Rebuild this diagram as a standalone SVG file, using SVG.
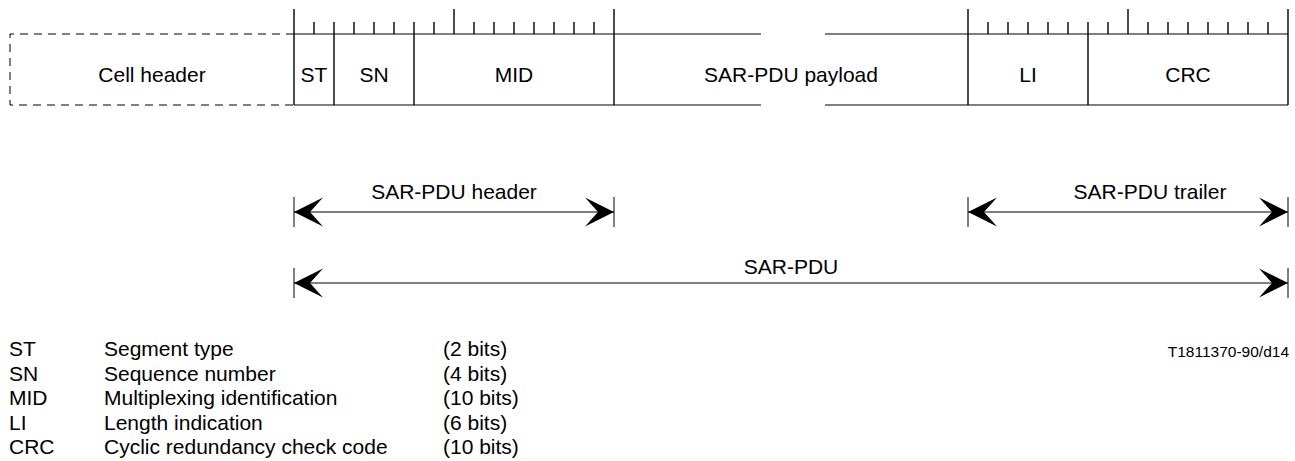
<svg xmlns="http://www.w3.org/2000/svg" width="1295" height="461" viewBox="0 0 1295 461">
<style>
text{font-family:"Liberation Sans",Arial,sans-serif;fill:#000}
.lbl{font-size:21px;text-anchor:middle}
.leg{font-size:21px}
.ln{stroke:#000;stroke-width:1;fill:none}
.tk{stroke:#000;stroke-width:1.4;fill:none}
.dash{stroke:#000;stroke-width:1;fill:none;stroke-dasharray:8 6}
.arr{stroke:#000;stroke-width:1;fill:none;marker-start:url(#ah);marker-end:url(#ah)}
</style>
<defs>
<marker id="ah" viewBox="-30 -15 31 30" refX="0" refY="0" markerWidth="31" markerHeight="30" markerUnits="userSpaceOnUse" orient="auto-start-reverse">
<path d="M0,0 L-29,-14.5 L-16,0 L-29,14.5 Z" fill="#000"/>
</marker>
</defs>
<rect width="1295" height="461" fill="#fff"/>

<g id="ticks">
<path class="tk" d="M294,9V34 M454,9V34 M614,9V34 M968,9V34 M1128,9V34 M1288,9V34
M314,22V34 M334,22V34 M354,22V34 M374,22V34 M394,22V34 M414,22V34 M434,22V34
M474,22V34 M494,22V34 M514,22V34 M534,22V34 M554,22V34 M574,22V34 M594,22V34
M988,22V34 M1008,22V34 M1028,22V34 M1048,22V34 M1068,22V34 M1088,22V34 M1108,22V34
M1148,22V34 M1168,22V34 M1188,22V34 M1208,22V34 M1228,22V34 M1248,22V34 M1268,22V34"/>
</g>

<g id="cell-header">
<path class="dash" d="M294,34H10V105H294"/>
<text class="lbl" x="152" y="82">Cell header</text>
</g>
<g id="st">
<path class="ln" d="M294,34H334M294,105H334"/>
<path class="tk" d="M294,34V105M334,34V105"/>
<text class="lbl" x="314" y="82">ST</text>
</g>
<g id="sn">
<path class="ln" d="M334,34H414M334,105H414"/>
<path class="tk" d="M414,34V105"/>
<text class="lbl" x="374" y="82">SN</text>
</g>
<g id="mid">
<path class="ln" d="M414,34H614M414,105H614"/>
<path class="tk" d="M614,34V105"/>
<text class="lbl" x="514" y="82">MID</text>
</g>
<g id="payload">
<path class="ln" d="M614,34H761M825,34H968M614,105H761M825,105H968"/>
<text class="lbl" x="791" y="82">SAR-PDU payload</text>
</g>
<g id="li">
<path class="ln" d="M968,34H1088M968,105H1088"/>
<path class="tk" d="M968,34V105M1088,34V105"/>
<text class="lbl" x="1028" y="82">LI</text>
</g>
<g id="crc">
<path class="ln" d="M1088,34H1288M1088,105H1288"/>
<path class="tk" d="M1288,34V105"/>
<text class="lbl" x="1188" y="82">CRC</text>
</g>

<g id="connectors">
<path class="ln" d="M294,197V227M614,197V227M968,197V227M1288,197V227M294,268V298M1288,268V298"/>
<line class="arr" x1="294" y1="212" x2="614" y2="212"/>
<line class="arr" x1="968" y1="212" x2="1288" y2="212"/>
<line class="arr" x1="294" y1="283" x2="1288" y2="283"/>
</g>
<g id="arrow-labels">
<text class="lbl" x="454" y="199">SAR-PDU header</text>
<text class="lbl" x="1150" y="199">SAR-PDU trailer</text>
<text class="lbl" x="791" y="274">SAR-PDU</text>
</g>

<g id="legend" class="leg">
<text x="9" y="356">ST</text><text x="104" y="356">Segment type</text><text x="443" y="356">(2 bits)</text>
<text x="9" y="380.5">SN</text><text x="104" y="380.5">Sequence number</text><text x="443" y="380.5">(4 bits)</text>
<text x="9" y="405">MID</text><text x="104" y="405">Multiplexing identification</text><text x="443" y="405">(10 bits)</text>
<text x="9" y="429.5">LI</text><text x="104" y="429.5">Length indication</text><text x="443" y="429.5">(6 bits)</text>
<text x="9" y="454">CRC</text><text x="104" y="454">Cyclic redundancy check code</text><text x="443" y="454">(10 bits)</text>
</g>
<text id="ref" x="1289" y="357" style="font-size:15.5px;text-anchor:end">T1811370-90/d14</text>
</svg>
